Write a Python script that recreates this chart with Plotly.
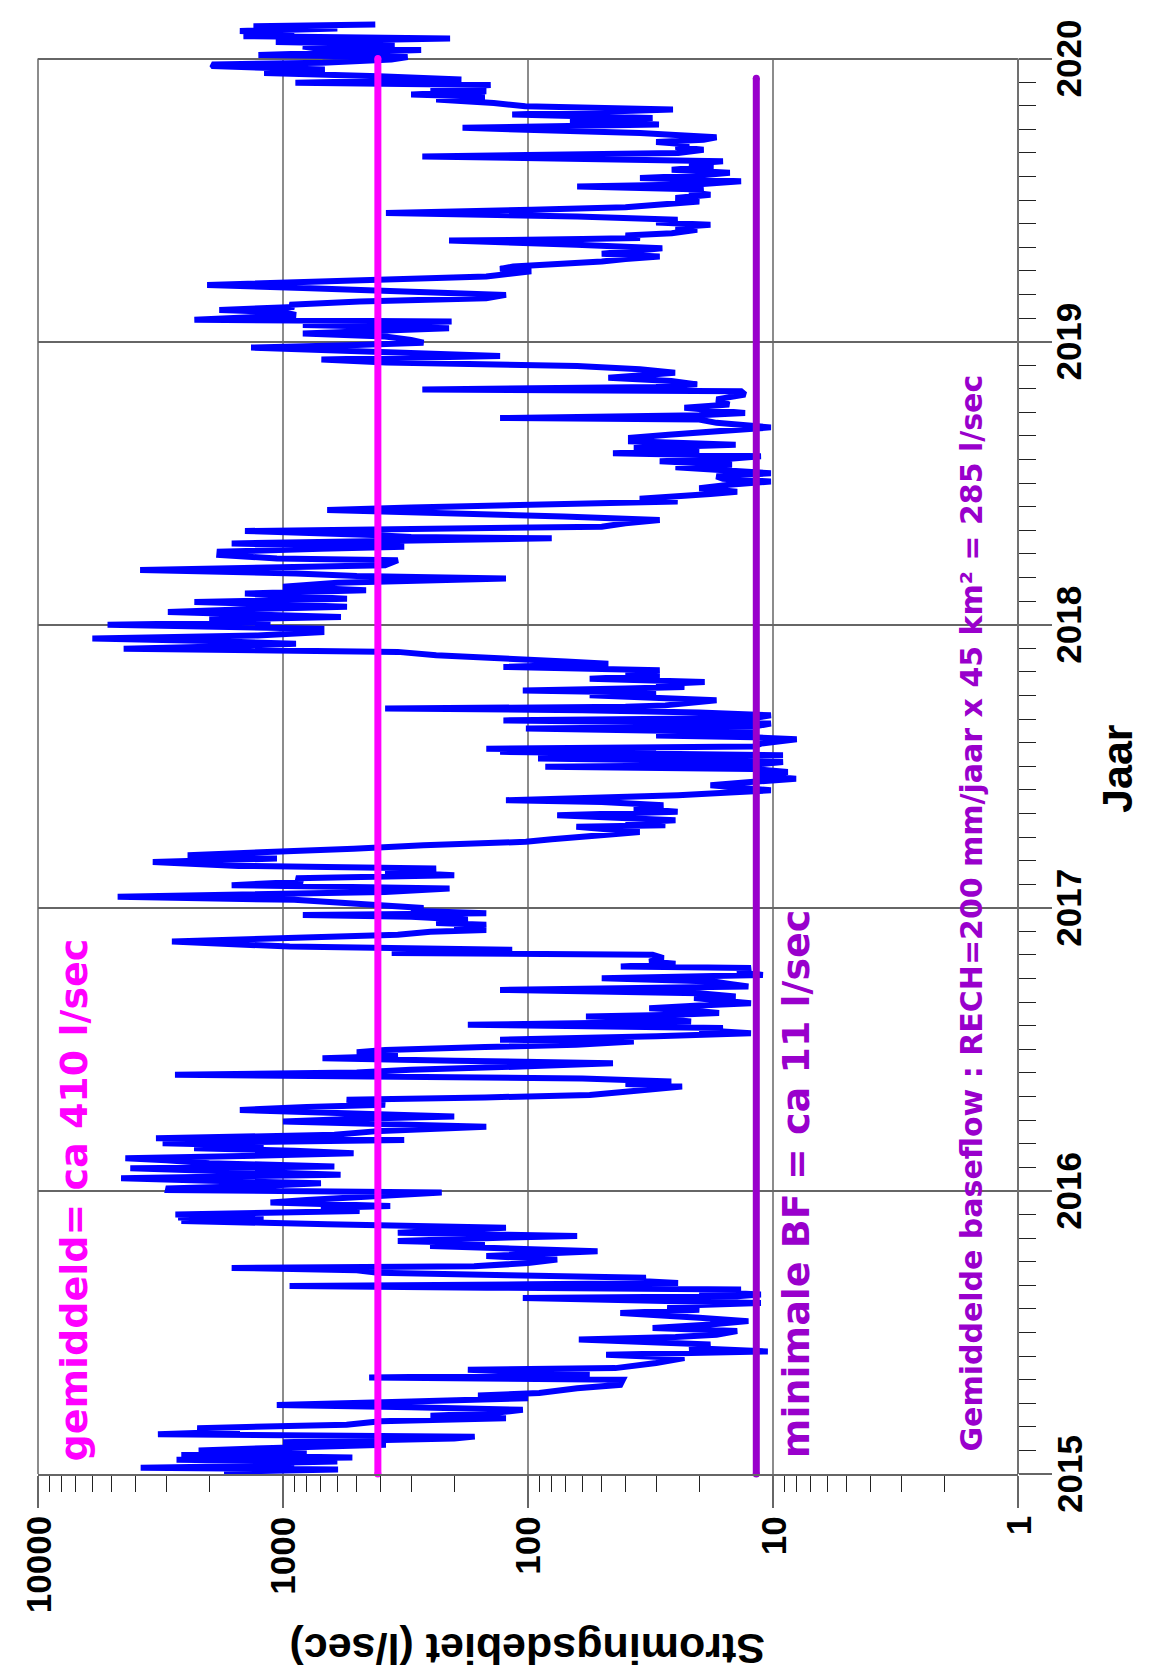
import math
import plotly.graph_objects as go

# ---------------- data ----------------
t_2015 = [2015.002, 2015.008, 2015.016, 2015.022, 2015.030, 2015.036, 2015.044, 2015.050, 2015.058, 2015.067,
          2015.076, 2015.083, 2015.092, 2015.103, 2015.112, 2015.125, 2015.132, 2015.140, 2015.150, 2015.162,
          2015.174, 2015.186, 2015.197, 2015.206, 2015.215, 2015.227, 2015.236, 2015.244, 2015.256, 2015.268,
          2015.277, 2015.286, 2015.303, 2015.315, 2015.333, 2015.341, 2015.351, 2015.360, 2015.368, 2015.374,
          2015.392, 2015.410, 2015.421, 2015.433, 2015.445, 2015.457, 2015.466, 2015.475, 2015.484, 2015.492,
          2015.505, 2015.516, 2015.528, 2015.540, 2015.552, 2015.569, 2015.580, 2015.593, 2015.604, 2015.622,
          2015.628, 2015.634, 2015.645, 2015.652, 2015.658, 2015.664, 2015.670, 2015.675, 2015.684, 2015.693,
          2015.702, 2015.711, 2015.720, 2015.728, 2015.734, 2015.745, 2015.758, 2015.770, 2015.787, 2015.797,
          2015.805, 2015.815, 2015.823, 2015.835, 2015.841, 2015.852, 2015.860, 2015.870, 2015.882, 2015.894,
          2015.900, 2015.906, 2015.912, 2015.917, 2015.929, 2015.940, 2015.947, 2015.959, 2015.968, 2015.976,
          2015.985, 2015.994]
q_2015 = [843, 1740, 596, 3810, 900, 1815, 600, 2720, 521, 2600,
          800, 2210, 1100, 380, 1000, 200, 165, 3240, 1500, 2240,
          550, 400, 123, 250, 140, 105, 300, 1060, 300, 100,
          160, 90, 63, 42, 41, 445, 56, 90, 176, 44,
          30, 23, 48, 10.5, 22, 18, 30, 62, 25, 17,
          14, 31, 18, 12.6, 20, 42, 20, 27, 11.2, 105,
          14, 11.2, 20, 13.5, 147, 940, 100, 24.4, 40, 33,
          120, 410, 500, 1620, 166, 100, 76, 148, 52, 110,
          251, 150, 340, 120, 63, 340, 200, 123, 656, 2600,
          1200, 2680, 1300, 2750, 487, 700, 365, 1125, 800, 548,
          400, 225]

t_2016 = [2016.003, 2016.009, 2016.018, 2016.027, 2016.036, 2016.045, 2016.057, 2016.068, 2016.080, 2016.086,
          2016.098, 2016.108, 2016.115, 2016.125, 2016.133, 2016.142, 2016.151, 2016.160, 2016.168, 2016.180,
          2016.186, 2016.198, 2016.212, 2016.227, 2016.235, 2016.245, 2016.255, 2016.263, 2016.275, 2016.286,
          2016.296, 2016.304, 2016.314, 2016.322, 2016.330, 2016.339, 2016.350, 2016.360, 2016.369, 2016.378,
          2016.386, 2016.397, 2016.404, 2016.410, 2016.418, 2016.428, 2016.440, 2016.451, 2016.460, 2016.469,
          2016.475, 2016.481, 2016.490, 2016.498, 2016.508, 2016.516, 2016.528, 2016.534, 2016.546, 2016.557,
          2016.568, 2016.575, 2016.587, 2016.593, 2016.598, 2016.610, 2016.616, 2016.622, 2016.628, 2016.638,
          2016.645, 2016.655, 2016.663, 2016.672, 2016.681, 2016.687, 2016.698, 2016.710, 2016.716, 2016.722,
          2016.731, 2016.740, 2016.751, 2016.757, 2016.763, 2016.775, 2016.787, 2016.793, 2016.802, 2016.810,
          2016.822, 2016.834, 2016.840, 2016.852, 2016.863, 2016.881, 2016.893, 2016.905, 2016.915, 2016.922,
          2016.930, 2016.940, 2016.946, 2016.958, 2016.968, 2016.975, 2016.981, 2016.990, 2016.999]
q_2016 = [2950, 2940, 1200, 700, 2000, 4580, 582, 1500, 4200, 617,
          2000, 3000, 4400, 1200, 515, 900, 2306, 1200, 3100, 320,
          3300, 617, 400, 148, 400, 1000, 500, 200, 600, 1500,
          800, 383, 450, 550, 150, 56, 40, 30, 23.5, 40,
          26, 60, 320, 2760, 500, 301, 100, 45, 200, 690,
          400, 340, 500, 383, 150, 63.5, 37, 130, 30, 12.3,
          20, 16, 176, 30, 21.6, 30, 58, 25, 16.6, 22,
          32, 20, 12.3, 16, 21, 14.2, 20, 130, 20, 12.6,
          15, 17.5, 50, 16, 11, 14, 12.3, 41.8, 25, 32,
          28, 31, 360, 116, 940, 2840, 800, 340, 250, 148,
          200, 148, 237, 176, 300, 830, 148, 300, 267]

t_2017 = [2017.008, 2017.015, 2017.028, 2017.039, 2017.048, 2017.056, 2017.068, 2017.080, 2017.092, 2017.104,
          2017.115, 2017.127, 2017.139, 2017.148, 2017.162, 2017.174, 2017.186, 2017.198, 2017.209, 2017.221,
          2017.233, 2017.242, 2017.251, 2017.260, 2017.268, 2017.286, 2017.292, 2017.300, 2017.309, 2017.318,
          2017.327, 2017.339, 2017.351, 2017.362, 2017.374, 2017.380, 2017.390, 2017.398, 2017.407, 2017.415,
          2017.425, 2017.433, 2017.445, 2017.456, 2017.468, 2017.480, 2017.490, 2017.498, 2017.505, 2017.515,
          2017.527, 2017.533, 2017.539, 2017.551, 2017.556, 2017.562, 2017.570, 2017.580, 2017.595, 2017.602,
          2017.609, 2017.620, 2017.633, 2017.640, 2017.651, 2017.662, 2017.670, 2017.680, 2017.690, 2017.698,
          2017.704, 2017.710, 2017.715, 2017.733, 2017.742, 2017.751, 2017.760, 2017.768, 2017.775, 2017.780,
          2017.790, 2017.798, 2017.809, 2017.815, 2017.821, 2017.830, 2017.839, 2017.851, 2017.856, 2017.862,
          2017.870, 2017.880, 2017.892, 2017.904, 2017.915, 2017.925, 2017.933, 2017.942, 2017.951, 2017.962,
          2017.974, 2017.986, 2017.993]
q_2017 = [400, 458, 900, 4730, 900, 383, 209, 1620, 830, 885,
          200, 383, 237, 1518, 3400, 1059, 2450, 885, 515, 267,
          102, 80, 63.5, 45, 35, 63.5, 27.5, 40, 25, 40,
          76, 24.5, 37, 28, 50, 123, 40, 24.4, 15, 10.2,
          14, 18, 12, 8.05, 11.9, 8.7, 12, 85, 12, 9.1,
          91, 12, 9.1, 130, 30, 148, 12, 11.2, 8, 12,
          30, 12, 102, 12, 10.2, 126, 12, 10.2, 20, 60,
          383, 40, 27.5, 17, 30, 56, 30, 105, 40, 23,
          30, 19, 56, 35, 29, 40, 29, 126, 60, 47,
          70, 123, 237, 340, 4470, 1500, 885, 2000, 6000, 1268,
          697, 697, 2500]

t_2018 = [2018.000, 2018.009, 2018.018, 2018.027, 2018.036, 2018.045, 2018.054, 2018.063, 2018.072, 2018.080,
          2018.092, 2018.101, 2018.110, 2018.122, 2018.134, 2018.148, 2018.163, 2018.172, 2018.181, 2018.193,
          2018.203, 2018.210, 2018.228, 2018.234, 2018.246, 2018.258, 2018.268, 2018.275, 2018.287, 2018.296,
          2018.305, 2018.310, 2018.317, 2018.331, 2018.340, 2018.346, 2018.358, 2018.370, 2018.382, 2018.394,
          2018.405, 2018.414, 2018.423, 2018.435, 2018.445, 2018.453, 2018.462, 2018.470, 2018.482, 2018.494,
          2018.506, 2018.515, 2018.524, 2018.535, 2018.547, 2018.556, 2018.565, 2018.577, 2018.586, 2018.595,
          2018.606, 2018.615, 2018.624, 2018.636, 2018.648, 2018.660, 2018.671, 2018.685, 2018.697, 2018.713,
          2018.725, 2018.730, 2018.740, 2018.748, 2018.766, 2018.778, 2018.796, 2018.813, 2018.825, 2018.831,
          2018.840, 2018.849, 2018.861, 2018.872, 2018.882, 2018.890, 2018.902, 2018.914, 2018.926, 2018.937,
          2018.949, 2018.961, 2018.970, 2018.979, 2018.988, 2018.996]
q_2018 = [5200, 1125, 2000, 580, 1200, 2950, 1500, 548, 1100, 2300,
          548, 800, 1430, 458, 1000, 600, 123, 500, 885, 3830,
          1200, 383, 340, 1059, 1820, 1815, 700, 320, 1620, 500,
          80, 300, 432, 1430, 300, 50, 40, 29, 71.6, 237,
          660, 300, 102.6, 24.5, 35, 27.5, 18, 14, 20, 15.1,
          10.2, 16, 17, 10.2, 17, 25, 14.7, 29, 15, 11.2,
          45, 20, 37, 14.2, 38, 38, 26.7, 15, 10.2, 17,
          20, 130, 20, 13, 23, 15.1, 17, 13, 13.5, 270,
          30, 20.4, 26, 47, 30, 25.1, 34.9, 63, 380, 697,
          130, 383, 600, 1350, 500, 267]

t_2019 = [2019.006, 2019.018, 2019.029, 2019.038, 2019.047, 2019.059, 2019.071, 2019.077, 2019.085, 2019.094,
          2019.104, 2019.112, 2019.122, 2019.130, 2019.142, 2019.153, 2019.165, 2019.177, 2019.189, 2019.200,
          2019.212, 2019.222, 2019.230, 2019.248, 2019.257, 2019.265, 2019.274, 2019.283, 2019.292, 2019.301,
          2019.310, 2019.318, 2019.330, 2019.342, 2019.357, 2019.362, 2019.366, 2019.375, 2019.383, 2019.395,
          2019.404, 2019.413, 2019.421, 2019.430, 2019.442, 2019.454, 2019.460, 2019.466, 2019.475, 2019.483,
          2019.495, 2019.507, 2019.519, 2019.528, 2019.537, 2019.548, 2019.556, 2019.566, 2019.578, 2019.587,
          2019.596, 2019.607, 2019.619, 2019.628, 2019.637, 2019.654, 2019.660, 2019.666, 2019.678, 2019.687,
          2019.696, 2019.705, 2019.713, 2019.722, 2019.730, 2019.737, 2019.755, 2019.761, 2019.767, 2019.778,
          2019.790, 2019.802, 2019.808, 2019.820, 2019.831, 2019.843, 2019.855, 2019.865, 2019.873, 2019.884,
          2019.895, 2019.902, 2019.906, 2019.914, 2019.920, 2019.926, 2019.937, 2019.949, 2019.961, 2019.967,
          2019.973, 2019.979, 2019.985, 2019.996]
q_2019 = [300, 383, 830, 400, 210, 830, 205, 2300, 1200, 885,
          1000, 1820, 900, 940, 487, 148, 123, 383, 830, 2040,
          697, 300, 148, 97, 130, 115, 70, 50, 40, 29,
          50, 40, 28.3, 63.5, 210, 60, 34.9, 40, 25.9, 20.4,
          25, 18, 30, 24.5, 63, 380, 150, 96.6, 40, 27.5,
          20, 25, 18, 22, 19.2, 63, 20, 13.5, 34.9, 20,
          15, 25.9, 17.5, 22, 16, 270, 40, 24.4, 19.2, 25,
          22, 30, 19.2, 17, 25, 34.9, 185, 50, 29.2, 67.4,
          31, 116, 59.8, 25.6, 102.6, 138, 237, 150, 300, 148,
          250, 176, 142, 890, 400, 187, 406, 1194, 675, 1500,
          1928, 1950, 690, 361]

t_2020 = [2020.005, 2020.012, 2020.022, 2020.030, 2020.036, 2020.042, 2020.050, 2020.058, 2020.066, 2020.071,
          2020.079, 2020.088, 2020.097, 2020.106, 2020.114, 2020.120]
q_2020 = [310, 1260, 450, 273, 740, 830, 350, 1070, 400, 208,
          1450, 900, 1500, 600, 1320, 420]

mean_flow = 410          # gemiddeld debiet (l/sec)
min_baseflow = 11.7      # minimale baseflow (l/sec)
mean_line_years = [2015.0, 2020.0]
min_line_years = [2015.0, 2019.93]

year_ticks = [2015, 2016, 2017, 2018, 2019, 2020]
year_labels = ["2015", "2016", "2017", "2018", "2019", "2020"]
flow_ticks = [10000, 1000, 100, 10, 1]
flow_labels = ["10000", "1000", "100", "10", "1"]
flow_grid = [1000, 100, 10]

# ---------------- styling ----------------
BLUE = "#0000FF"
MAGENTA = "#FF00FF"
PURPLE = "#9900CC"
GRID = "#666666"
TICKFONT = dict(family="Liberation Sans, Arial, sans-serif", size=35, color="black", weight="bold")
TITLEFONT = dict(family="Liberation Sans, Arial, sans-serif", size=43, color="black", weight="bold")
ANNFONT = "DejaVu Sans, Verdana, sans-serif"

t_all = t_2015 + t_2016 + t_2017 + t_2018 + t_2019 + t_2020
q_all = q_2015 + q_2016 + q_2017 + q_2018 + q_2019 + q_2020

fig = go.Figure()
fig.add_trace(go.Scatter(x=q_all, y=t_all, mode="lines",
                         line=dict(color=BLUE, width=6), hoverinfo="skip"))
fig.add_trace(go.Scatter(x=[mean_flow] * len(mean_line_years), y=mean_line_years, mode="lines+markers",
                         line=dict(color=MAGENTA, width=7), marker=dict(size=7, color=MAGENTA),
                         cliponaxis=False, hoverinfo="skip"))
fig.add_trace(go.Scatter(x=[min_baseflow] * len(min_line_years), y=min_line_years, mode="lines+markers",
                         line=dict(color=PURPLE, width=7), marker=dict(size=7, color=PURPLE),
                         cliponaxis=False, hoverinfo="skip"))

minor_x = [k * 10 ** d for d in range(0, 4) for k in range(2, 10)]
minor_y = [y + m / 12 for y in year_ticks[:-1] for m in range(1, 12)]

fig.update_layout(
    width=1149, height=1673,
    margin=dict(l=30, r=139, t=12, b=207),
    plot_bgcolor="white", paper_bgcolor="white",
    showlegend=False,
)
fig.update_xaxes(type="log", range=[4, 0], tickmode="array", tickvals=flow_ticks,
                 ticks="outside", ticklen=32, tickwidth=1.5, tickcolor=GRID,
                 showticklabels=False, showgrid=False, zeroline=False,
                 showline=True, linecolor=GRID, linewidth=2,
                 minor=dict(tickmode="array", tickvals=minor_x, ticks="outside", ticklen=16,
                            tickwidth=1, tickcolor="#222222", showgrid=False))
fig.update_yaxes(range=[2015, 2020.136], side="right", tickmode="array", tickvals=year_ticks,
                 ticks="outside", ticklen=33, tickwidth=1.5, tickcolor=GRID,
                 showticklabels=False, showgrid=True, gridcolor=GRID, gridwidth=1.5,
                 zeroline=False, showline=False,
                 minor=dict(tickmode="array", tickvals=minor_y, ticks="outside", ticklen=17,
                            tickwidth=1, tickcolor="#222222", showgrid=False))

shapes = []
for v in flow_grid:
    shapes.append(dict(type="line", xref="x", yref="y", x0=v, x1=v, y0=year_ticks[0], y1=year_ticks[-1],
                       line=dict(color=GRID, width=1.5), layer="below"))
shapes.append(dict(type="line", xref="paper", yref="y", x0=0, x1=0, y0=year_ticks[0], y1=year_ticks[-1],
                   line=dict(color=GRID, width=1.5)))
shapes.append(dict(type="line", xref="paper", yref="y", x0=1, x1=1, y0=year_ticks[0], y1=year_ticks[-1],
                   line=dict(color="#707070", width=2)))
fig.update_layout(shapes=shapes)

ann = []
# year tick labels (right side)
for y, lab in zip(year_ticks, year_labels):
    ann.append(dict(x=1.052, xref="paper", y=y, yref="y", text=lab, textangle=-90,
                    showarrow=False, xanchor="center", yanchor="middle", font=TICKFONT))
# flow tick labels (bottom)
for v, lab in zip(flow_ticks, flow_labels):
    ann.append(dict(x=math.log10(v), xref="x", y=-0.028, yref="paper", text=lab, textangle=-90,
                    showarrow=False, xanchor="center", yanchor="top", font=TICKFONT))
# axis titles
ann.append(dict(x=1.101, xref="paper", y=2017.494, yref="y", text="Jaar", textangle=-90,
                showarrow=False, xanchor="center", yanchor="middle", font=TITLEFONT))
ann.append(dict(x=2.0, xref="x", y=-0.1205, yref="paper", text="Stromingsdebiet (l/sec)", textangle=180,
                showarrow=False, xanchor="center", yanchor="middle", font=TITLEFONT))
# text labels inside the chart
ann.append(dict(x=3.853, xref="x", y=2015.966, yref="y", text="gemiddeld= ca 410 l/sec", textangle=-90,
                showarrow=False, xanchor="center", yanchor="middle",
                font=dict(family=ANNFONT, size=38, color=MAGENTA, weight="bold")))
ann.append(dict(x=0.906, xref="x", y=2016.024, yref="y", text="minimale BF = ca 11 l/sec", textangle=-90,
                showarrow=False, xanchor="center", yanchor="middle",
                font=dict(family=ANNFONT, size=38, color=PURPLE, weight="bold")))
ann.append(dict(x=0.188, xref="x", y=2016.983, yref="y",
                text="Gemiddelde baseflow : RECH=200 mm/jaar x 45 km\u00b2 = 285 l/sec", textangle=-90,
                showarrow=False, xanchor="center", yanchor="middle",
                font=dict(family=ANNFONT, size=30, color=PURPLE, weight="bold")))
fig.update_layout(annotations=ann)

fig.write_html("out.html")
